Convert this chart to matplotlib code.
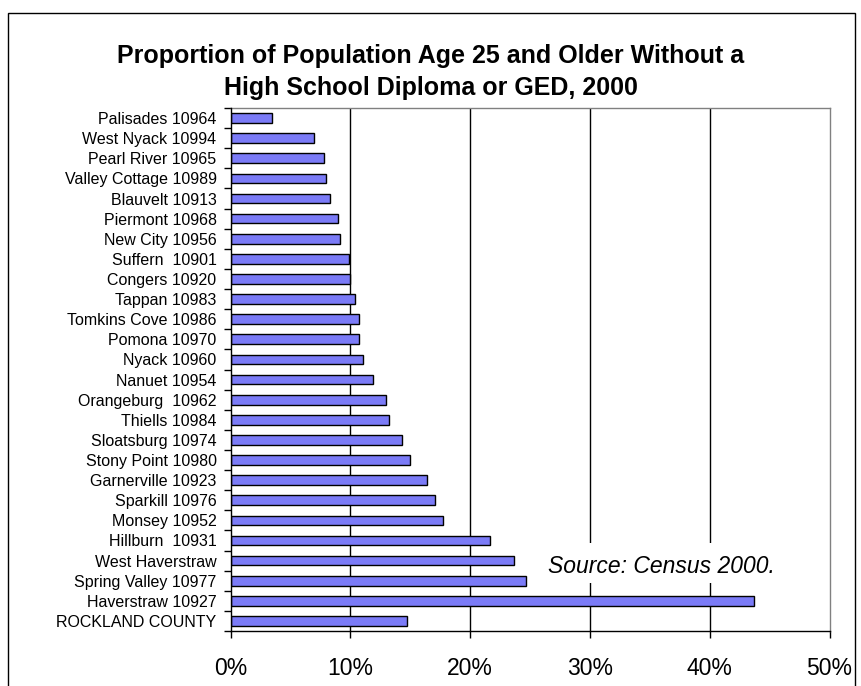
import matplotlib
matplotlib.use("Agg")
import matplotlib.pyplot as plt
from matplotlib.patches import Rectangle
from matplotlib import font_manager

places = [
    "Palisades 10964", "West Nyack 10994", "Pearl River 10965", "Valley Cottage 10989",
    "Blauvelt 10913", "Piermont 10968", "New City 10956", "Suffern  10901",
    "Congers 10920", "Tappan 10983", "Tomkins Cove 10986", "Pomona 10970",
    "Nyack 10960", "Nanuet 10954", "Orangeburg  10962", "Thiells 10984",
    "Sloatsburg 10974", "Stony Point 10980", "Garnerville 10923", "Sparkill 10976",
    "Monsey 10952", "Hillburn  10931", "West Haverstraw", "Spring Valley 10977",
    "Haverstraw 10927", "ROCKLAND COUNTY",
]
pct_no_diploma = [
    3.5, 7.0, 7.8, 8.0, 8.3, 9.0, 9.1, 9.9,
    10.0, 10.4, 10.7, 10.7, 11.1, 11.9, 13.0, 13.2,
    14.3, 15.0, 16.4, 17.1, 17.7, 21.7, 23.7, 24.7,
    43.7, 14.7,
]
x_ticks = [0, 10, 20, 30, 40, 50]
x_tick_labels = ["0%", "10%", "20%", "30%", "40%", "50%"]

names = {f.name for f in font_manager.fontManager.ttflist}
base = "Liberation Sans" if "Liberation Sans" in names else "DejaVu Sans"
plt.rcParams["font.family"] = [base, "DejaVu Sans"]

W, H = 862, 686
fig = plt.figure(figsize=(W / 100, H / 100), dpi=100)

# outer chart frame
fig.patches.append(Rectangle((8 / W, -0.05), (855 - 8) / W, 1.05 - 13 / H,
                             transform=fig.transFigure, fill=False,
                             edgecolor="black", linewidth=1.0))

left, right, top, bottom = 230.5, 829.5, 108, 631
ax = fig.add_axes([left / W, 1 - bottom / H, (right - left) / W, (bottom - top) / H])

y = list(range(len(places)))
ax.barh(y, pct_no_diploma, height=0.48, color="#7b7bf7", edgecolor="black",
        linewidth=1.0, zorder=3)
ax.set_ylim(len(places) - 0.5, -0.5)
ax.set_xlim(0, 50)

ax.set_yticks(y)
ax.set_yticklabels(places, fontsize=11.5)
ax.tick_params(axis="y", which="major", length=0, pad=10)
ax.set_yticks([i - 0.5 for i in range(len(places) + 1)], minor=True)
ax.tick_params(axis="y", which="minor", length=5, width=1, color="black")

ax.set_xticks(x_ticks)
ax.set_xticklabels(x_tick_labels, fontsize=16.5)
ax.tick_params(axis="x", length=5, width=1, color="black", pad=14)

for v in x_ticks[1:-1]:
    ax.axvline(v, color="black", linewidth=1.0, zorder=1)

for side in ("top", "right"):
    ax.spines[side].set_color("#808080")
    ax.spines[side].set_linewidth(1.0)
for side in ("left", "bottom"):
    ax.spines[side].set_color("black")
    ax.spines[side].set_linewidth(1.0)
    ax.spines[side].set_zorder(4)

fig.text(431 / W, 1 - 72 / H,
         "Proportion of Population Age 25 and Older Without a\nHigh School Diploma or GED, 2000",
         ha="center", va="center", fontsize=18, fontweight="bold",
         linespacing=1.45)

# source note on a white panel that hides the grid behind it
ax.add_patch(Rectangle((25.3, 21.15), 27, 1.95, transform=ax.transData,
                       facecolor="white", edgecolor="none", zorder=2, clip_on=False))
ax.text(36.0, 22.3, "Source: Census 2000.", ha="center", va="center",
        fontsize=16.5, style="italic", zorder=6)

fig.savefig("out.png", dpi=100)
